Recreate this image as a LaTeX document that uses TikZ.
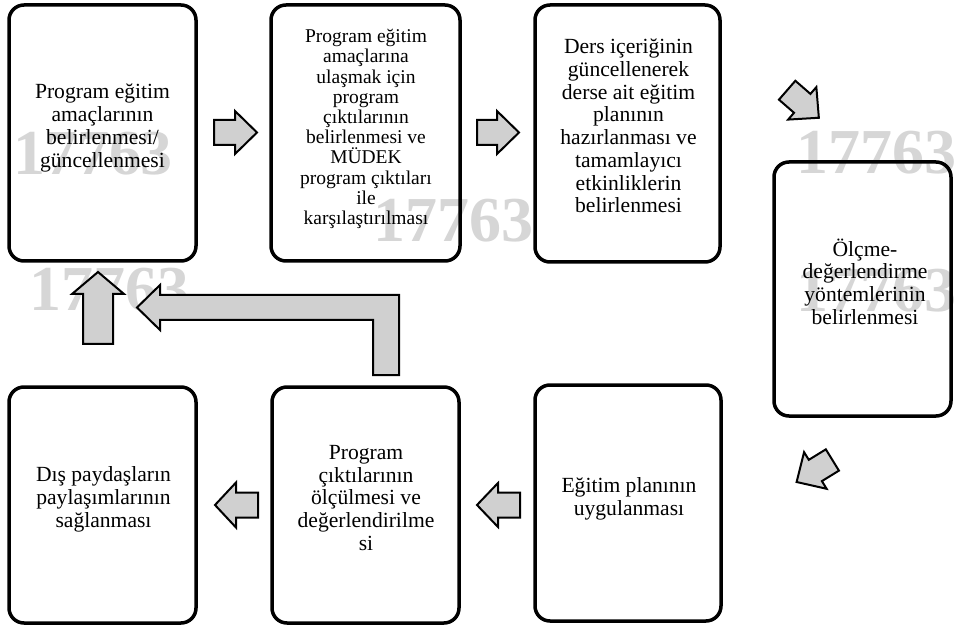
\documentclass[tikz,border=0pt]{standalone}
\usepackage{fontspec}
\setmainfont{Liberation Serif}
\definecolor{arrowfill}{RGB}{208,208,208}
\definecolor{wmgray}{RGB}{214,214,214}
\tikzset{
  box/.style={draw=black, line width=3.5pt, rounded corners=15pt, inner sep=0pt, minimum width=#1},
  txt/.style={align=center, inner sep=0pt, font=\fontsize{21.6}{22.7}\selectfont},
  txtsmall/.style={align=center, inner sep=0pt, font=\fontsize{19.5}{20.2}\selectfont},
  wmark/.style={text=wmgray, inner sep=0pt, font=\fontsize{64}{64}\selectfont\bfseries},
  arrowstyle/.style={draw=black, fill=arrowfill, line width=2pt, line join=miter},
  pics/blockarrow/.style args={#1,#2,#3,#4}{code={
    \draw[arrowstyle] (-#1/2,-#2/2) -- ({#1/2-#4},-#2/2) -- ({#1/2-#4},-#3/2) -- (#1/2,0)
      -- ({#1/2-#4},#3/2) -- ({#1/2-#4},#2/2) -- (-#1/2,#2/2) -- cycle;
  }},
}
\begin{document}
\begin{tikzpicture}[x=1pt,y=-1pt]
\path[use as bounding box, clip] (0,0) rectangle (954,631);
\fill[white] (0,0) rectangle (954,631);
% watermarks
\node[wmark] (w1) at (93,154) {17763};
\node[wmark] (w2) at (453,221) {17763};
\node[wmark] (w3) at (110,290) {17763};
\node[wmark] (w4) at (876,153) {17763};
\node[wmark] (w5) at (876,291) {17763};
% boxes
\node[box=187pt, minimum height=256pt] (b1) at (102.5,133) {};
\node[box=189pt, minimum height=256pt] (b2) at (365.5,133) {};
\node[box=185pt, minimum height=257pt] (b3) at (627.5,133.5) {};
\node[box=177pt, minimum height=254pt] (b4) at (862.5,289) {};
\node[box=186pt, minimum height=236pt] (b5) at (628,503) {};
\node[box=187pt, minimum height=236pt] (b6) at (365.5,505) {};
\node[box=187pt, minimum height=236pt] (b7) at (102.5,505) {};
% texts
\node[txt] (t1) at (102.5,128) {Program eğitim\\amaçlarının\\belirlenmesi/\\güncellenmesi};
\node[txtsmall] (t2) at (366,129) {Program eğitim\\amaçlarına\\ulaşmak için\\program\\çıktılarının\\belirlenmesi ve\\MÜDEK\\program çıktıları\\ile\\karşılaştırılması};
\node[txt] (t3) at (628.5,126) {Ders içeriğinin\\güncellenerek\\derse ait eğitim\\planının\\hazırlanması ve\\tamamlayıcı\\etkinliklerin\\belirlenmesi};
\node[txt] (t4) at (865,281.5) {Ölçme-\\değerlendirme\\yöntemlerinin\\belirlenmesi};
\node[txt] (t5) at (629,499) {Eğitim planının\\uygulanması};
\node[txt] (t6) at (366,498) {Program\\çıktılarının\\ölçülmesi ve\\değerlendirilme\\si};
\node[txt] (t7) at (103.5,499.5) {Dış paydaşların\\paylaşımlarının\\sağlanması};
% arrow positions
\coordinate (a1) at (235.5,132.5);
\coordinate (a2) at (498,132.5);
\coordinate (a3) at (803,104);
\coordinate (a4) at (814.5,471);
\coordinate (a5) at (498.5,505);
\coordinate (a6) at (236.5,505);
\coordinate (a7) at (98,308);
\pic at (a1) {blockarrow={43,25,43,22}};
\pic at (a2) {blockarrow={42,25,43,22}};
\pic[rotate=-41] at (a3) {blockarrow={42,25,43,22}};
\pic[rotate=211.6] at (a4) {blockarrow={42,25,43,22}};
\pic[rotate=180] at (a5) {blockarrow={43,25,44,21}};
\pic[rotate=180] at (a6) {blockarrow={43,25,45,21}};
\pic[rotate=90] at (a7) {blockarrow={72,30,52,22}};
% bent arrow from b6 back to b1
\coordinate (bt) at (137,307.5);
\draw[arrowstyle] (bt) -- (160,285) -- (160,295) -- (399,295) -- (399,375) -- (373,375)
  -- (373,320) -- (160,320) -- (160,330) -- cycle;
\end{tikzpicture}
\end{document}
